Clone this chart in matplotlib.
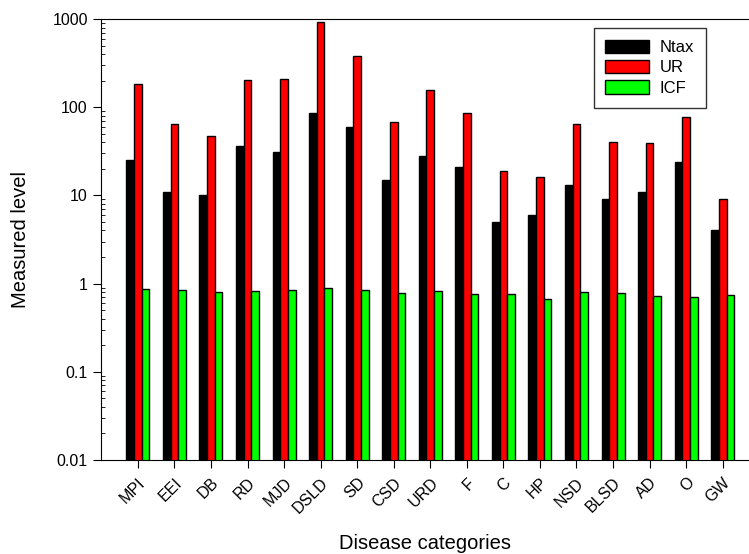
#!/usr/bin/env python3
# -*- coding: utf-8 -*-
"""
Measured level by disease category (log scale grouped bars)
"""

import matplotlib
matplotlib.use('Agg')
import matplotlib.pyplot as plt
import numpy as np

plt.rcParams['font.family'] = ['Liberation Sans', 'DejaVu Sans']

categories = ["MPI", "EEI", "DB", "RD", "MJD", "DSLD", "SD", "CSD", "URD",
              "F", "C", "HP", "NSD", "BLSD", "AD", "O", "GW"]
ntax = [25, 11, 10, 36, 31, 85, 60, 15, 28, 21, 5, 6, 13, 9, 11, 24, 4]
ur = [185, 65, 47, 205, 210, 930, 380, 68, 155, 85, 19, 16, 65, 40, 39, 78, 9]
icf = [0.87, 0.84, 0.80, 0.83, 0.85, 0.90, 0.84, 0.79, 0.82, 0.76, 0.77,
       0.66, 0.80, 0.79, 0.73, 0.70, 0.75]

series = [("Ntax", ntax, "#000000"), ("UR", ur, "#ff0000"), ("ICF", icf, "#00ff00")]

fig = plt.figure(figsize=(7.49, 5.54), dpi=100)
ax = fig.add_axes([0.1348, 0.1697, 0.8652, 0.796])

x = np.arange(len(categories))
width = 0.21
for i, (name, vals, color) in enumerate(series):
    ax.bar(x + (i - 1) * width, vals, width, bottom=0.001, color=color,
           edgecolor='black', linewidth=1.0, label=name)

ax.set_yscale('log')
ax.set_ylim(0.01, 1000)
ax.set_xlim(-1.01, 16.72)
ax.spines['right'].set_visible(False)
ax.set_yticks([0.01, 0.1, 1, 10, 100, 1000])
ax.set_yticklabels(["0.01", "0.1", "1", "10", "100", "1000"])
ax.tick_params(axis='y', which='major', direction='out', length=6, labelsize=11.5)
ax.tick_params(axis='y', which='minor', direction='in', length=3)
ax.set_xticks(x)
ax.set_xticklabels(categories, rotation=45, ha='right', rotation_mode='anchor')
ax.tick_params(axis='x', direction='out', length=6, labelsize=11.5, pad=5)

ax.set_ylabel("Measured level", fontsize=14.5)
ax.yaxis.set_label_coords(-0.1097, 0.5)
ax.set_xlabel("Disease categories", fontsize=14.5)
ax.xaxis.set_label_coords(0.5, -0.168)

leg = ax.legend(loc='upper right', bbox_to_anchor=(0.9334, 0.9797),
                borderaxespad=0, fontsize=12, fancybox=False, edgecolor='black',
                handlelength=2.6, handleheight=0.85, handletextpad=0.66,
                borderpad=0.7, labelspacing=0.3)
leg.get_frame().set_linewidth(1.0)

plt.savefig("out.png", dpi=100)
plt.close()
